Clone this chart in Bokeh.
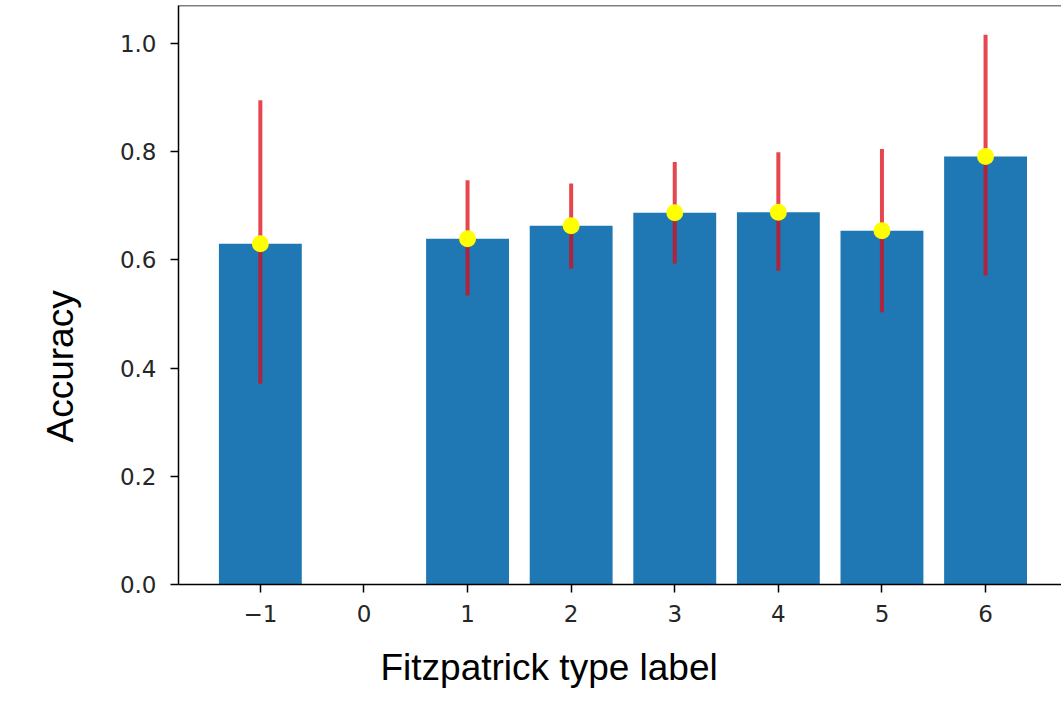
from bokeh.plotting import figure
from bokeh.models import Range1d, FixedTicker, NumeralTickFormatter, Span, ColumnDataSource, Title
from bokeh.embed import file_html
from bokeh.resources import INLINE

# ---- data ----
fitz_type = [-1, 1, 2, 3, 4, 5, 6]
accuracy = [0.630, 0.639, 0.663, 0.687, 0.688, 0.654, 0.791]
err_lower = [0.371, 0.534, 0.584, 0.593, 0.580, 0.503, 0.571]
err_upper = [0.895, 0.747, 0.741, 0.781, 0.799, 0.805, 1.016]
x_ticks = [-1, 0, 1, 2, 3, 4, 5, 6]
y_ticks = [0.0, 0.2, 0.4, 0.6, 0.8, 1.0]
x_title = "Fitzpatrick type label"
y_title = "Accuracy"

X_START, X_END = -1.79, 6.733
Y_START, Y_END = 0.0, 1.0702

src = ColumnDataSource(dict(x=fitz_type, acc=accuracy, lo=err_lower, hi=err_upper))

p = figure(width=1061, height=709, output_backend="svg", toolbar_location=None,
           x_range=Range1d(X_START, X_END), y_range=Range1d(Y_START, Y_END),
           min_border_left=178, min_border_right=0, min_border_top=5, min_border_bottom=125)

p.outline_line_color = None
p.xgrid.visible = False
p.ygrid.visible = False
p.background_fill_color = "white"
p.border_fill_color = "white"

p.vbar(x="x", top="acc", bottom=0, width=0.8, source=src,
       fill_color="#1f77b4", line_color=None)
p.segment(x0="x", y0="lo", x1="x", y1="hi", source=src,
          line_color="#dd0a14", line_alpha=0.75, line_width=4)
p.scatter(x="x", y="acc", source=src, size=17, fill_color="#ffff00",
          line_color=None)

p.add_layout(Span(location=Y_END, dimension="width", line_color="black", line_width=1.5))

for ax in (p.xaxis[0], p.yaxis[0]):
    ax.axis_line_color = "black"
    ax.axis_line_width = 1.5
    ax.major_tick_line_color = "black"
    ax.major_tick_line_width = 1.5
    ax.major_tick_out = 8
    ax.major_tick_in = 0
    ax.minor_tick_line_color = None
    ax.major_label_text_font = "DejaVu Sans"
    ax.major_label_text_font_size = "23px"
    ax.major_label_text_color = "#262626"

p.xaxis.ticker = FixedTicker(ticks=x_ticks)
p.xaxis.major_label_overrides = {-1: "\u22121"}
p.xaxis.major_label_standoff = 12

p.yaxis.ticker = FixedTicker(ticks=y_ticks)
p.yaxis.formatter = NumeralTickFormatter(format="0.0")
p.yaxis.major_label_standoff = 14

# axis titles (placed off-centre as in the reference)
p.add_layout(Title(text=x_title, align="left", offset=202, standoff=40,
                   vertical_align="bottom",
                   text_font="Liberation Sans", text_font_size="37px",
                   text_font_style="normal", text_color="black"), "below")
p.add_layout(Title(text=y_title, align="left", offset=142, standoff=71,
                   vertical_align="bottom",
                   text_font="Liberation Sans", text_font_size="37px",
                   text_font_style="normal", text_color="black"), "left")

open("out.html", "w").write(file_html(p, INLINE))
